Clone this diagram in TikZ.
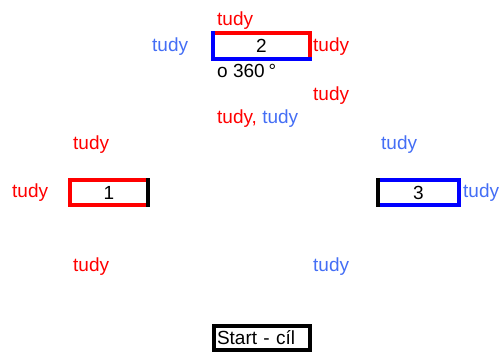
\documentclass[tikz,border=0pt]{standalone}
\usepackage{fontspec}
\setmainfont{Liberation Sans}
\definecolor{tblue}{RGB}{68,110,245}
\tikzstyle{field} = [rectangle,inner sep=0,minimum height=25pt,font=\fontsize{19}{21}\selectfont]
\tikzstyle{side} = [line width=3.5pt,line cap=rect]
\tikzstyle{word} = [inner sep=0,anchor=base west,font=\fontsize{19}{21}\selectfont]
\def \base {52}

\begin{document}
\begin{tikzpicture}[x=1pt,y=-1pt]
      \useasboundingbox (0,0) rectangle (503,352);
      % boxes
      \node[field,minimum width=97pt,minimum height=26pt] (b2) at (261.5,46) {2};
      \node[field,minimum width=78pt] (b1) at (109,192.5) {1};
      \node[field,minimum width=81pt] (b3) at (418.5,192.5) {3};
      \node[field,draw,line width=3.5pt,minimum height=24pt,text width=90pt,inner xsep=3pt,align=left] (start) at (262,338) {Start - cíl};
      \draw[side,red] (b2.north west) -- (b2.north east) -- (b2.south east);
      \draw[side,blue] (b2.north west) -- (b2.south west) -- (b2.south east);
      \draw[side,red] (b1.north east) -- (b1.north west) -- (b1.south west) -- (b1.south east);
      \draw[side] (b1.north east) -- (b1.south east);
      \draw[side,blue] (b3.north west) -- (b3.north east) -- (b3.south east) -- (b3.south west);
      \draw[side] (b3.north west) -- (b3.south west);
      % labels
      \node[word,red] (t2n) at (217,26) {tudy};
      \node[word,tblue] (t2w) at (152,\base) {tudy};
      \node[word,red] (t2e) at (313,\base) {tudy};
      \node[word] (turn) at (217,78) {o 360\kern4pt°};
      \node[word,red] (t2s) at (313,101) {tudy};
      \node[word] (both) at (217,124) {\textcolor{red}{tudy,} \textcolor{tblue}{tudy}};
      \node[word,red] (t1n) at (73,150) {tudy};
      \node[word,tblue] (t3n) at (381,150) {tudy};
      \node[word,red] (t1w) at (12,198) {tudy};
      \node[word,tblue] (t3e) at (463,198) {tudy};
      \node[word,red] (t1s) at (73,272) {tudy};
      \node[word,tblue] (t3s) at (313,272) {tudy};
    \end{tikzpicture}
\end{document}
